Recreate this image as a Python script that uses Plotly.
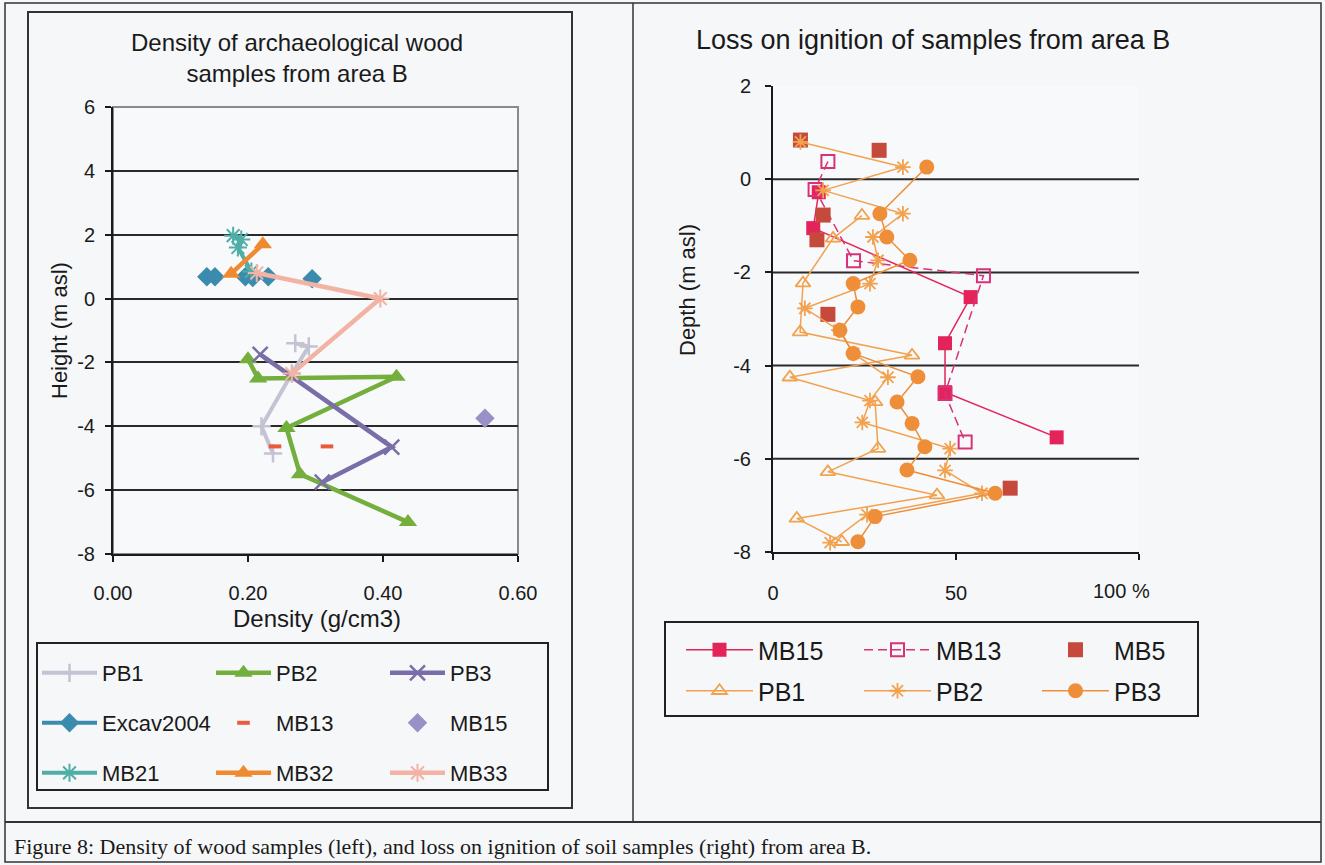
import plotly.graph_objects as go

W, H = 1325, 865
def px(x): return x / W
def py(y): return 1 - y / H

FONT = "Liberation Sans, Arial, sans-serif"
INK = "#1a1a1a"

# ---------------- Left chart data (Density, g/cm3 vs Height, m asl)
pb1_x = [0.27, 0.29, 0.265, 0.22, 0.237]
pb1_y = [-1.4, -1.5, -2.35, -4.0, -4.85]
pb2_x = [0.20, 0.215, 0.42, 0.257, 0.277, 0.437]
pb2_y = [-1.9, -2.5, -2.45, -4.05, -5.5, -7.0]
pb3_x = [0.218, 0.413, 0.31]
pb3_y = [-1.75, -4.65, -5.75]
excav_x = [0.139, 0.151, None, 0.196, 0.207, 0.23, None, 0.295]
excav_y = [0.68, 0.68, None, 0.68, 0.66, 0.68, None, 0.62]
mb13l_x = [0.24, 0.317]
mb13l_y = [-4.63, -4.63]
mb15l_x = [0.551]
mb15l_y = [-3.75]
mb21_x = [0.178, 0.19, 0.185, 0.205]
mb21_y = [1.97, 1.85, 1.6, 0.85]
mb32_x = [0.222, 0.175]
mb32_y = [1.7, 0.78]
mb33_x = [0.213, 0.396, 0.265]
mb33_y = [0.8, 0.0, -2.35]

left_yticks = [-8, -6, -4, -2, 0, 2, 4, 6]
left_ytext = ["-8", "-6", "-4", "-2", "0", "2", "4", "6"]
left_xticks = [0, 0.2, 0.4, 0.6]
left_xtext = ["0.00", "0.20", "0.40", "0.60"]

# ---------------- Right chart data (Loss on ignition %, vs Depth m asl)
mb15_x = [12.5, 11.0, 54, 47, 47, 77.5]
mb15_y = [-0.28, -1.05, -2.53, -3.52, -4.57, -5.54]
mb13_x = [15, 11.5, 22, 57.5, 47, 52.5]
mb13_y = [0.38, -0.22, -1.75, -2.07, -4.6, -5.64]
mb5_x = [7.5, 29, 13.7, 12, 15, 64.8]
mb5_y = [0.84, 0.62, -0.77, -1.3, -2.9, -6.63]
rpb1_x = [24.3, 16.4, 8.2, 7.4, 38, 4.6, 27.9, 28.7, 15, 44.8, 6.5, 18.8]
rpb1_y = [-0.78, -1.27, -2.23, -3.28, -3.78, -4.25, -4.78, -5.78, -6.28, -6.78, -7.28, -7.78]
rpb2_x = [7.5, 35.5, 13.7, 35.5, 27.3, 28.7, 26.5, 8.7, 18, 22, 31.4, 26.5, 24.4, 48.4, 47, 57.1, 25.7, 15.6]
rpb2_y = [0.8, 0.26, -0.24, -0.74, -1.24, -1.74, -2.24, -2.77, -3.24, -3.74, -4.25, -4.75, -5.22, -5.78, -6.25, -6.74, -7.2, -7.8]
rpb3_x = [42, 29.2, 31.1, 37.4, 21.9, 23.2, 18.3, 21.9, 39.6, 33.9, 38, 41.5, 36.6, 60.7, 27.9, 23.2]
rpb3_y = [0.26, -0.74, -1.24, -1.74, -2.24, -2.74, -3.24, -3.74, -4.24, -4.78, -5.24, -5.74, -6.24, -6.74, -7.24, -7.78]

right_yticks = [-8, -6, -4, -2, 0, 2]
right_ytext = ["-8", "-6", "-4", "-2", "0", "2"]
right_xticks = [0, 50, 100]
right_xtext = ["0", "50", ""]
right_last_label = "100 %"
right_grid = [-6, -4, -2, 0]

fig = go.Figure()

def L(name, x, y, color, symbol, size, lw, legend, mode="lines+markers", mlw=0, dash="solid"):
    marker = dict(symbol=symbol, size=size, color=color, line=dict(color=color, width=mlw))
    fig.add_trace(go.Scatter(x=x, y=y, name=name, mode=mode, xaxis="x", yaxis="y",
                             line=dict(color=color, width=lw, dash=dash), marker=marker,
                             legend=legend, connectgaps=False))

def R(name, x, y, color, symbol, size, lw, legend, mode="lines+markers", mlw=0, dash="solid"):
    marker = dict(symbol=symbol, size=size, color=color, line=dict(color=color, width=mlw))
    fig.add_trace(go.Scatter(x=x, y=y, name=name, mode=mode, xaxis="x2", yaxis="y2",
                             line=dict(color=color, width=lw, dash=dash), marker=marker,
                             legend=legend))

# left traces
L("PB1", pb1_x, pb1_y, "#C3C3D3", "cross-thin", 13, 4, "legend", mlw=2.5)
L("PB2", pb2_x, pb2_y, "#74AE3C", "triangle-up", 16, 4.5, "legend")
L("PB3", pb3_x, pb3_y, "#7A6EA8", "x-thin", 15, 4.5, "legend", mlw=2.5)
L("Excav2004", excav_x, excav_y, "#3A8BAE", "diamond", 15, 4, "legend2")
L("MB13", mb13l_x, mb13l_y, "#EC5A3C", "line-ew", 9, 0, "legend2", mode="markers", mlw=4)
L("MB15", mb15l_x, mb15l_y, "#9A90C8", "diamond", 15, 0, "legend2", mode="markers")
L("MB21", mb21_x, mb21_y, "#4FAEA6", "asterisk", 15, 4, "legend3", mlw=2)
L("MB32", mb32_x, mb32_y, "#F08A30", "triangle-up", 16, 4.5, "legend3")
L("MB33", mb33_x, mb33_y, "#F2B2A4", "asterisk", 15, 4.5, "legend3", mlw=2)

# right traces
R("MB15", mb15_x, mb15_y, "#E3245A", "square", 14, 1.5, "legend4")
R("MB13", mb13_x, mb13_y, "#DA3278", "square-open", 13, 1.5, "legend4", mlw=2, dash="9px,5px")
R("MB5", mb5_x, mb5_y, "#C54A3C", "square", 15, 0, "legend4", mode="markers")
R("PB1", rpb1_x, rpb1_y, "#F2A24E", "triangle-up-open", 13, 1.5, "legend5", mlw=1.8)
R("PB2", rpb2_x, rpb2_y, "#F2A24E", "asterisk", 13, 1.5, "legend5", mlw=1.8)
R("PB3", rpb3_x, rpb3_y, "#EE8E38", "circle", 15, 1.5, "legend5")

axis_common = dict(showline=True, linecolor=INK, linewidth=2, ticks="outside", ticklen=6,
                   tickwidth=2, tickcolor=INK, zeroline=False,
                   tickfont=dict(family=FONT, size=20, color=INK))

leg_common = dict(orientation="h", entrywidthmode="pixels", bgcolor="rgba(0,0,0,0)",
                  borderwidth=0, xanchor="left", yanchor="middle", traceorder="normal")
lfont = dict(family=FONT, size=22, color=INK)
rfont = dict(family=FONT, size=25, color=INK)

fig.update_layout(
    width=W, height=H, margin=dict(l=0, r=0, t=0, b=0, autoexpand=False),
    paper_bgcolor="#F6F7F9", plot_bgcolor="#F8F9FB",
    font=dict(family=FONT, color=INK),
    xaxis=dict(domain=[px(113), px(518)], range=[0, 0.6], anchor="y",
               tickvals=left_xticks, ticktext=left_xtext, showgrid=False,
               ticklabelstandoff=14, **axis_common),
    yaxis=dict(domain=[py(554), py(107)], range=[-8, 6], anchor="x",
               tickvals=left_yticks, ticktext=left_ytext, showgrid=True,
               gridcolor="#2a2a2a", gridwidth=2, ticklabelstandoff=6, **axis_common),
    xaxis2=dict(domain=[px(773), px(1139)], range=[0, 100], anchor="y2",
                tickvals=right_xticks, ticktext=right_xtext, showgrid=False,
                ticklabelstandoff=16, **axis_common),
    yaxis2=dict(domain=[py(552), py(86)], range=[-8, 2], anchor="x2",
                tickvals=right_yticks, ticktext=right_ytext, showgrid=False,
                ticklabelstandoff=10, **axis_common),
    legend=dict(x=px(37), y=py(673), entrywidth=104, itemwidth=55, font=lfont, **leg_common),
    legend2=dict(x=px(37), y=py(723), entrywidth=104, itemwidth=55, font=lfont, **leg_common),
    legend3=dict(x=px(37), y=py(773), entrywidth=104, itemwidth=55, font=lfont, **leg_common),
    legend4=dict(x=px(681), y=py(650), entrywidth=96, itemwidth=67, font=rfont, **leg_common),
    legend5=dict(x=px(681), y=py(691), entrywidth=96, itemwidth=67, font=rfont, **leg_common),
    showlegend=True,
)

shapes = []
shapes.append(dict(type="rect", xref="paper", yref="paper", x0=px(5), x1=px(1321), y0=py(862), y1=py(3),
                   line=dict(color="#333", width=1.5), layer="below"))
shapes.append(dict(type="rect", xref="paper", yref="paper", x0=px(28), x1=px(572), y0=py(808), y1=py(12),
                   line=dict(color="#333", width=2), layer="below"))
shapes.append(dict(type="line", xref="paper", yref="paper", x0=px(633), x1=px(633), y0=py(822), y1=py(3),
                   line=dict(color="#333", width=1.5)))
shapes.append(dict(type="line", xref="paper", yref="paper", x0=px(5), x1=px(1321), y0=py(822), y1=py(822),
                   line=dict(color="#333", width=2)))
shapes.append(dict(type="rect", xref="paper", yref="paper", x0=px(37), x1=px(548), y0=py(790), y1=py(643),
                   line=dict(color="#222", width=2), layer="below"))
shapes.append(dict(type="rect", xref="paper", yref="paper", x0=px(665), x1=px(1198), y0=py(716), y1=py(622),
                   line=dict(color="#222", width=2), layer="below"))
shapes.append(dict(type="rect", xref="x domain", yref="y domain", x0=0, x1=1, y0=0, y1=1,
                   line=dict(color="#8a8a8a", width=2), layer="below"))
for g in right_grid:
    shapes.append(dict(type="line", xref="x2 domain", yref="y2", x0=0, x1=1, y0=g, y1=g,
                       line=dict(color="#2a2a2a", width=2), layer="below"))
fig.update_layout(shapes=shapes)

ann = [
    dict(text="Density of archaeological wood<br>samples from area B", x=px(297), y=py(58),
         font=dict(size=24, family=FONT, color=INK)),
    dict(text="Loss on ignition of samples from area B", x=px(933), y=py(40),
         font=dict(size=27, family=FONT, color=INK)),
    dict(text="Height (m asl)", x=px(60), y=py(330), textangle=-90,
         font=dict(size=22, family=FONT, color=INK)),
    dict(text="Density (g/cm3)", x=px(317), y=py(618),
         font=dict(size=24, family=FONT, color=INK)),
    dict(text="Depth (m asl)", x=px(688), y=py(290), textangle=-90,
         font=dict(size=22, family=FONT, color=INK)),
    dict(text=right_last_label, x=px(1121), y=py(591),
         font=dict(size=20, family=FONT, color=INK)),
]
for a in ann:
    a.update(xref="paper", yref="paper", showarrow=False, xanchor="center", yanchor="middle")
ann.append(dict(text="Figure 8: Density of wood samples (left), and loss on ignition of soil samples (right) from area B.",
                x=px(12), y=py(846), xref="paper", yref="paper", showarrow=False,
                xanchor="left", yanchor="middle",
                font=dict(size=22, family="Liberation Serif, Times New Roman, serif", color=INK)))
fig.update_layout(annotations=ann)

fig.write_html("out.html")
